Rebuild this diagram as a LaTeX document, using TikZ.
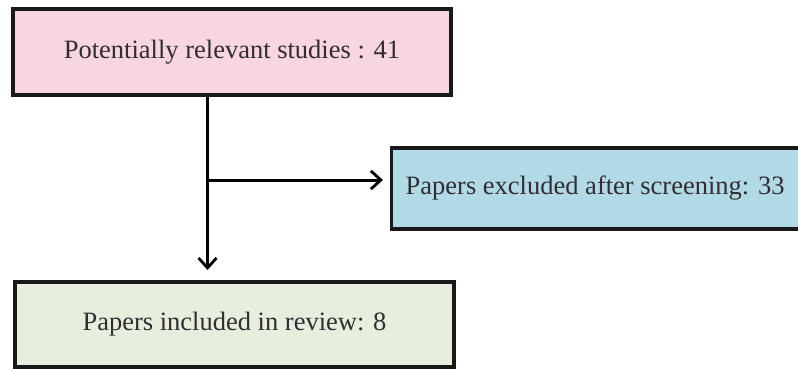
\documentclass[tikz,border=0pt]{standalone}
\usepackage{fontspec}
\setmainfont{Liberation Serif}
\usetikzlibrary{arrows.meta}
\definecolor{pinkfill}{RGB}{248,214,224}
\definecolor{bluefill}{RGB}{178,218,230}
\definecolor{greenfill}{RGB}{230,238,222}
\definecolor{txt}{RGB}{50,45,50}
\begin{document}
\begin{tikzpicture}[x=1pt,y=-1pt,
  box/.style={draw=black!90,line width=3.4pt,text=txt,font=\fontsize{26.5}{31}\selectfont,inner sep=0pt},
  arr/.style={line width=3pt,-{Straight Barb[length=10pt,width=18pt,line width=2.8pt]}}]
\useasboundingbox (0,0) rectangle (798,369);
\node[box,fill=pinkfill,minimum width=438pt,minimum height=86pt] (top) at (232,52) {Potentially relevant studies : 41};
\node[box,fill=bluefill,minimum height=81pt,anchor=west] (excl) at (390,188.5) {\makebox[408pt][l]{\hspace*{14pt}Papers excluded after screening: 33}};
\node[box,fill=greenfill,minimum width=439pt,minimum height=85pt] (incl) at (234.5,324.5) {Papers included in review: 8};
\coordinate (split) at (207.5,180);
\draw[line width=3pt] (top.south -| split) -- (split);
\draw[arr] (split) -- (383,180);
\draw[arr] (split) -- (207.5,270);
\end{tikzpicture}
\end{document}
